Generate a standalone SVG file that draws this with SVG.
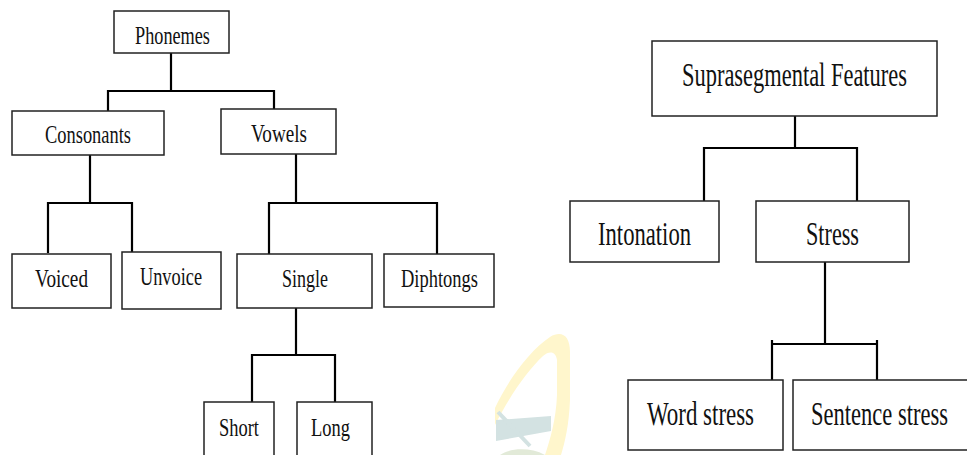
<svg xmlns="http://www.w3.org/2000/svg" width="967" height="455" viewBox="0 0 967 455">
<style>
.box{fill:#fff;stroke:#222;stroke-width:1.5}
.con{fill:none;stroke:#000;stroke-width:2.2;stroke-linejoin:miter}
.t{font-family:"Liberation Serif","Times New Roman",serif;fill:#111}
.s{font-size:25px}
.l{font-size:33px}
</style>
<rect width="967" height="455" fill="#fff"/>
<g id="watermark">
<path d="M495,408 C508,380 530,350 550,337 C562,330 570,336 570,352 L570,400 C569,425 565,442 561,455 L545,455 C550,440 556,420 557,395 L557,360 C556,352 550,350 543,356 C528,370 510,395 495,425 Z" fill="#fff6cc"/>
<path d="M496,420 L551,416 L551,431 L496,441 Z" fill="#d3e2e2"/>
<path d="M498,412 L530,446" stroke="#d3e2e2" stroke-width="4"/>
<path d="M500,455 C510,448 530,447 545,455 Z" fill="#e2ead8"/>
</g>
<g id="connectors">
<path class="con" d="M171,53 V91"/>
<path class="con" d="M108,111 V91 H274 V109"/>
<path class="con" d="M90,155 V203"/>
<path class="con" d="M48,253 V203 H132 V252"/>
<path class="con" d="M296,154 V203"/>
<path class="con" d="M269,254 V203 H437 V254"/>
<path class="con" d="M296,308 V355"/>
<path class="con" d="M252,402 V355 H335 V402"/>
<path class="con" d="M795,116 V148"/>
<path class="con" d="M704,201 V148 H857 V201"/>
<path class="con" d="M825,262 V344"/>
<path class="con" d="M772,380 V340 M772,344 H877 M877,340 V380"/>
</g>
<g id="phonemes"><rect class="box" x="114" y="11" width="115" height="42"/><text class="t s" transform="translate(135,44) scale(0.7,1)" textLength="107.1" lengthAdjust="spacingAndGlyphs">Phonemes</text></g>
<g id="consonants"><rect class="box" x="12" y="111" width="152" height="44"/><text class="t s" transform="translate(45,143) scale(0.7,1)" textLength="122.9" lengthAdjust="spacingAndGlyphs">Consonants</text></g>
<g id="vowels"><rect class="box" x="221" y="109" width="115" height="45"/><text class="t s" transform="translate(251,142) scale(0.7,1)" textLength="80" lengthAdjust="spacingAndGlyphs">Vowels</text></g>
<g id="voiced"><rect class="box" x="12" y="254" width="99" height="54"/><text class="t s" transform="translate(35,287) scale(0.7,1)" textLength="75.7" lengthAdjust="spacingAndGlyphs">Voiced</text></g>
<g id="unvoice"><rect class="box" x="122" y="252" width="99" height="57"/><text class="t s" transform="translate(140,285) scale(0.7,1)" textLength="88.6" lengthAdjust="spacingAndGlyphs">Unvoice</text></g>
<g id="single"><rect class="box" x="237" y="254" width="135" height="54"/><text class="t s" transform="translate(282,287) scale(0.7,1)" textLength="65.7" lengthAdjust="spacingAndGlyphs">Single</text></g>
<g id="diphtongs"><rect class="box" x="384" y="254" width="110" height="53"/><text class="t s" transform="translate(401,287) scale(0.7,1)" textLength="110" lengthAdjust="spacingAndGlyphs">Diphtongs</text></g>
<g id="short"><rect class="box" x="204" y="402" width="70" height="60"/><text class="t s" transform="translate(219,436) scale(0.7,1)" textLength="57.1" lengthAdjust="spacingAndGlyphs">Short</text></g>
<g id="long"><rect class="box" x="297" y="402" width="75" height="60"/><text class="t s" transform="translate(311,436) scale(0.7,1)" textLength="55.7" lengthAdjust="spacingAndGlyphs">Long</text></g>
<g id="suprasegmental"><rect class="box" x="652" y="41" width="285" height="75"/><text class="t l" transform="translate(682,86) scale(0.7,1)" textLength="321.4" lengthAdjust="spacingAndGlyphs">Suprasegmental Features</text></g>
<g id="intonation"><rect class="box" x="570" y="201" width="149" height="61"/><text class="t l" transform="translate(598,245) scale(0.7,1)" textLength="132.9" lengthAdjust="spacingAndGlyphs">Intonation</text></g>
<g id="stress"><rect class="box" x="756" y="201" width="153" height="61"/><text class="t l" transform="translate(806,245) scale(0.7,1)" textLength="75.7" lengthAdjust="spacingAndGlyphs">Stress</text></g>
<g id="word-stress"><rect class="box" x="628" y="380" width="155" height="70"/><text class="t l" transform="translate(647,425) scale(0.7,1)" textLength="152.9" lengthAdjust="spacingAndGlyphs">Word stress</text></g>
<g id="sentence-stress"><rect class="box" x="793" y="380" width="180" height="70"/><text class="t l" transform="translate(811,425) scale(0.7,1)" textLength="195.7" lengthAdjust="spacingAndGlyphs">Sentence stress</text></g>
</svg>
